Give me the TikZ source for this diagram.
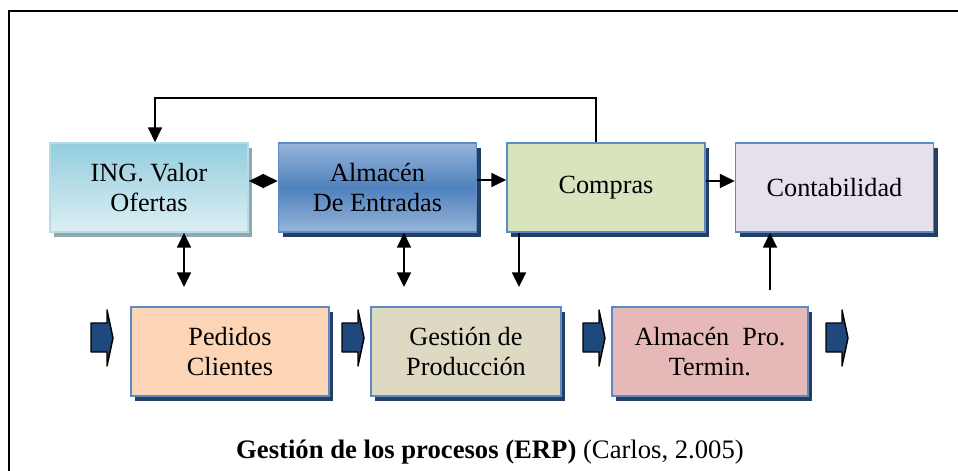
\documentclass[tikz,border=0pt]{standalone}
\usepackage{fontspec}
\setmainfont{Liberation Serif}
\usepackage{tikz}
\usetikzlibrary{arrows.meta,shadows}

\definecolor{ingdark}{HTML}{93CDDD}
\definecolor{inglight}{HTML}{DCEFF4}
\definecolor{ingedge}{HTML}{B3DDE7}
\definecolor{ingshade}{HTML}{8FA9AE}
\definecolor{almtop}{HTML}{98B5DA}
\definecolor{almmid}{HTML}{4F81BD}
\definecolor{boxedge}{HTML}{5B8BC6}
\definecolor{navyshade}{HTML}{243F60}
\definecolor{compfill}{HTML}{D7E4BD}
\definecolor{contfill}{HTML}{E5E0EC}
\definecolor{pedfill}{HTML}{FBD5B5}
\definecolor{gesfill}{HTML}{DDD9C3}
\definecolor{profill}{HTML}{E6B9B8}
\definecolor{chevfill}{HTML}{1F497D}

\tikzset{
  procbox/.style={draw=boxedge, line width=1.3pt, inner sep=0pt, align=center,
    minimum width=148.5pt, minimum height=66.75pt,
    font=\fontsize{19.7}{22.5}\selectfont,
    drop shadow={shadow xshift=3pt, shadow yshift=-3.5pt, opacity=1, fill=navyshade}},
  flecha/.style={line width=1.2pt, -{Triangle[length=11pt,width=10.5pt]}},
  dobleflecha/.style={line width=1.2pt, {Triangle[length=11pt,width=10.5pt]}-{Triangle[length=11pt,width=10.5pt]}}
}

\begin{document}
\begin{tikzpicture}[x=0.75pt,y=0.75pt,yscale=-1,xscale=1]
\useasboundingbox (0,0) rectangle (958,471);

%Frame
\draw[line width=1.6pt] (9,471) -- (9,11) -- (958,11) ;

%Upper row
\node[procbox, draw=ingedge, top color=ingdark, bottom color=inglight,
  drop shadow={shadow xshift=3pt, shadow yshift=-3.5pt, opacity=1, fill=ingshade}]
  (ing) at (149,187.5) {ING. Valor\\Ofertas};
\node[procbox, top color=almtop, bottom color=almtop, middle color=almmid]
  (alment) at (377.5,187.5) {Almacén\\De Entradas};
\node[procbox, fill=compfill] (compras) at (606,187.5) {Compras};
\node[procbox, fill=contfill] (conta) at (834.5,187.5) {Contabilidad};

%Lower row
\node[procbox, fill=pedfill] (pedidos) at (230,351.5) {Pedidos\\Clientes};
\node[procbox, fill=gesfill, minimum width=142.5pt] (gestion) at (466,351.5) {Gestión de\\Producción};
\node[procbox, fill=profill, minimum width=147pt] (almpro) at (710,351.5) {Almacén~ Pro.\\Termin.};

%Block arrows
\foreach \x in {91,342,583,826}
  \draw[fill=chevfill, line width=1.1pt, line join=round]
    (\x,323) -- (\x+16,323) -- (\x+16,310) -- (\x+22,338) -- (\x+16,366) -- (\x+16,352) -- (\x,352) -- cycle ;

%Free ends of the connectors
\coordinate (e1) at (184,287) ;
\coordinate (e2) at (404,287) ;
\coordinate (e3) at (519,287) ;
\coordinate (e4) at (770,290) ;
\coordinate (top) at (596,98) ;

%Connectors
\draw[flecha] (compras.north -| top) -- (top) -| ([xshift=4.5pt]ing.north) ;
\draw[dobleflecha] (ing.east |- 0,181) -- (alment.west |- 0,181) ;
\draw[flecha] (alment.east |- 0,180) -- (compras.west |- 0,180) ;
\draw[flecha] (compras.east |- 0,181) -- (conta.west |- 0,181) ;
\draw[dobleflecha] (ing.south -| e1) -- (e1) ;
\draw[dobleflecha] (alment.south -| e2) -- (e2) ;
\draw[flecha] (compras.south -| e3) -- (e3) ;
\draw[flecha] (e4) -- (conta.south -| e4) ;

% Text Node
\node[font=\fontsize{20}{23}\selectfont] (caption) at (490,452) {\textbf{Gestión de los procesos (ERP)} (Carlos, 2.005)};

\end{tikzpicture}
\end{document}
